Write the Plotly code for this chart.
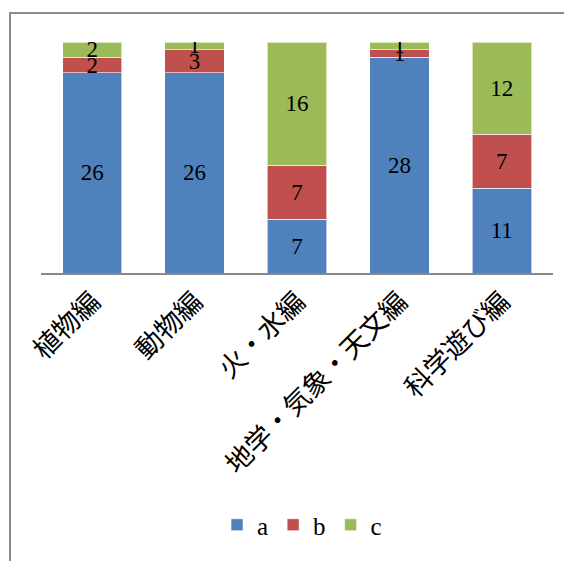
import plotly.graph_objects as go

categories = ["植物編", "動物編", "火・水編", "地学・気象・天文編", "科学遊び編"]
series_a = [26, 26, 7, 28, 11]
series_b = [2, 3, 7, 1, 7]
series_c = [2, 1, 16, 1, 12]
series_names = ["a", "b", "c"]
colors = ["#4F81BD", "#C0504D", "#9BBB59"]

serif = "Century Schoolbook, Liberation Serif, DejaVu Serif, serif"

fig = go.Figure()
for name, vals, col in zip(series_names, [series_a, series_b, series_c], colors):
    fig.add_trace(go.Bar(
        x=categories, y=vals, name=name,
        marker=dict(color=col, line=dict(color="rgba(255,255,255,0.6)", width=1)),
        text=[str(v) for v in vals], textposition="inside", textangle=0,
        insidetextanchor="middle", constraintext="none",
        textfont=dict(color="black", size=23, family=serif),
        hoverinfo="skip",
    ))

OFF = 8  # page body margin
W, H = 572 - OFF, 561 - OFF
L, R, T, B = 41 - OFF, 19, 42 - OFF, 288
pw, ph = W - L - R, H - T - B

def px_x(x):
    return (x - OFF - L) / pw

def px_y(y):
    return (T + ph - (y - OFF)) / ph

fig.update_layout(
    barmode="stack", bargap=0.42,
    width=W, height=H,
    margin=dict(l=L, r=R, t=T, b=B),
    paper_bgcolor="white", plot_bgcolor="white",
    uniformtext=dict(minsize=23, mode="show"),
    showlegend=True,
    legend=dict(orientation="h", x=px_x(302), xanchor="center",
                y=px_y(525), yanchor="middle",
                font=dict(family=serif, size=25, color="black"),
                itemwidth=30, traceorder="normal"),
    xaxis=dict(showline=True, linecolor="#888888", linewidth=2,
               tickangle=-45, ticks="", showgrid=False, automargin=False,
               tickfont=dict(family="Noto Sans CJK JP", size=27, color="black")),
    yaxis=dict(range=[0, 30], visible=False, showgrid=False, automargin=False),
    shapes=[dict(type="rect", xref="paper", yref="paper",
                 x0=px_x(10), x1=px_x(600),
                 y0=px_y(600), y1=px_y(13),
                 line=dict(color="#8C8C8C", width=2), layer="below")],
)

fig.write_html("out.html")
